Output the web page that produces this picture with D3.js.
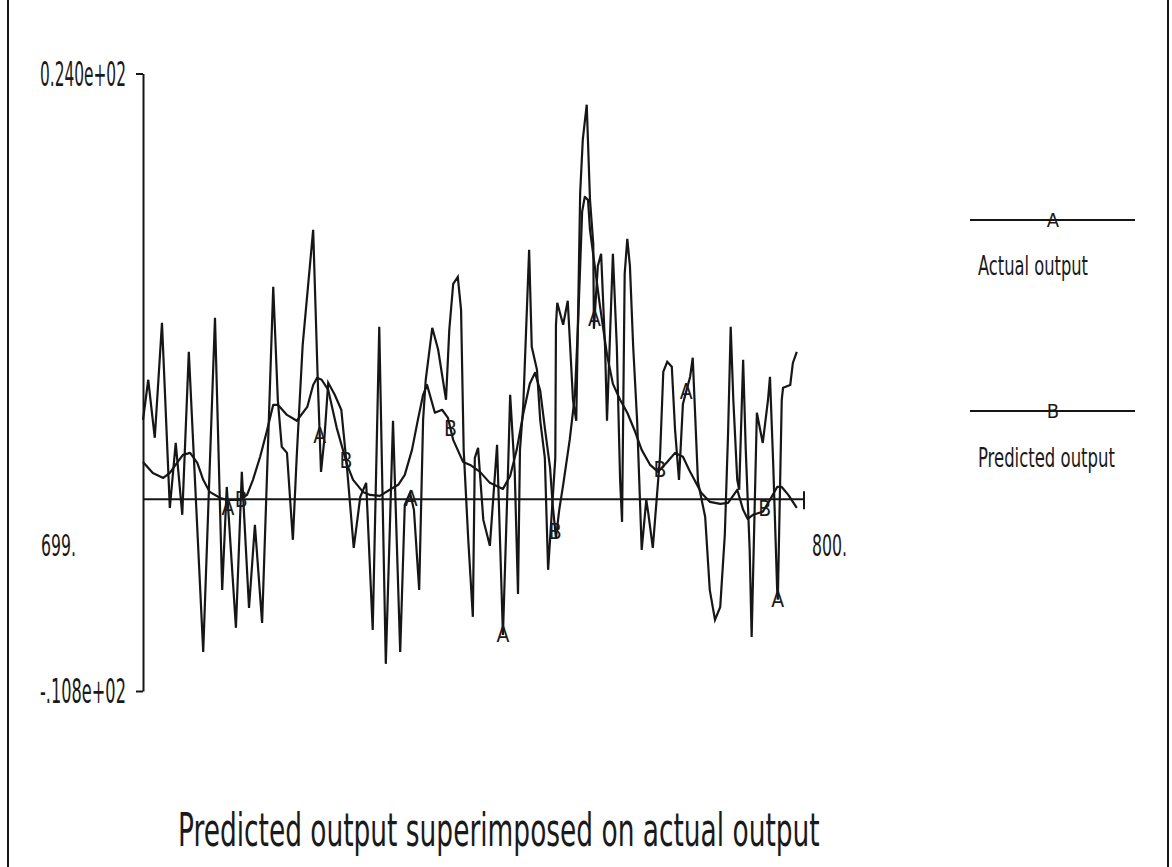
<!DOCTYPE html>
<html>
<head>
<meta charset="utf-8">
<script src="https://cdn.jsdelivr.net/npm/d3@7"></script>
<style>
  html, body { margin: 0; padding: 0; background: #fff; }
  svg { display: block; }
  text { font-family: "Liberation Sans Narrow", "DejaVu Sans Condensed", "DejaVu Sans", sans-serif; fill: #1a1a1a; }
</style>
</head>
<body>
<svg id="chart" width="1172" height="867"></svg>
<script>
// Actual output (series A), sampled along the record
const actualX = [699.0, 699.8, 700.8, 701.9, 703.1, 704.0, 705.0, 706.0, 708.2, 710.0,
  711.1, 711.8, 713.2, 714.1, 715.2, 716.1, 717.2, 718.9, 719.6, 720.2,
  721.0, 721.9, 722.5, 723.4, 725.0, 725.7, 726.2, 726.7, 727.3, 728.3,
  729.3, 730.2, 731.2, 732.2, 733.1, 734.1, 735.1, 736.1, 737.2, 738.3,
  739.0, 739.8, 740.4, 741.2, 741.8, 742.2, 743.2, 744.1, 745.3, 745.8,
  746.4, 747.1, 747.6, 748.0, 748.7, 749.4, 749.7, 750.2, 751.0, 752.0,
  753.1, 754.0, 754.8, 755.1, 755.8, 756.3, 756.6, 757.1, 758.0, 758.4,
  759.2, 759.7, 760.4, 760.9, 762.0, 762.1, 762.3, 763.2, 763.9, 764.7,
  765.2, 765.8, 766.2, 766.8, 767.3, 767.8, 767.9, 768.5, 769.0, 769.6,
  769.9, 770.8, 771.4, 771.9, 772.2, 772.6, 773.0, 773.4, 773.9, 774.5,
  774.9, 775.2, 775.9, 776.2, 776.9, 778.0, 778.5, 779.1, 779.8, 780.3,
  780.9, 781.5, 782.6, 783.0, 783.8, 784.9, 785.6, 786.4, 787.2, 787.9,
  788.4, 788.8, 789.2, 789.8, 790.1, 790.7, 791.1, 791.7, 792.0, 792.8,
  793.3, 793.7, 794.5, 794.8, 795.3, 795.9, 796.0, 796.6, 796.8, 797.9,
  798.3, 798.9];
const actualY = [4.48, 6.74, 3.47, 9.95, -0.48, 3.18, -0.87, 8.31, -8.60, 10.23,
  -5.10, 0.70, -7.24, 1.55, -6.12, -1.44, -6.96, 11.98, 5.61, 2.96,
  2.62, -2.28, 2.51, 8.71, 15.19, 6.74, 1.55, 3.35, 6.57, 5.89,
  5.05, 1.66, -2.73, 0.14, 0.93, -7.36, 9.72, -9.27, 4.43, -8.60,
  -0.31, 0.37, -0.59, -5.10, 4.48, 6.74, 9.67, 8.43, 5.61, 9.55,
  12.15, 12.54, 10.68, 2.79, -2.28, -6.62, 2.34, 2.90, -1.16, -2.62,
  3.07, -7.64, 1.94, 5.89, 1.55, -5.33, 2.79, 5.27, 14.06, 8.60,
  7.30, 4.43, 2.34, -3.97, 2.34, 9.84, 11.08, 9.84, 11.19, 5.61,
  4.43, 17.28, 20.27, 22.24, 16.88, 14.40, 9.61, 13.16, 13.84, 8.60,
  4.43, 13.84, 8.60, 1.10, -1.27, 12.71, 14.68, 13.16, 8.60, 4.43,
  0.31, -2.85, -0.03, -0.76, -2.73, 2.40, 7.19, 7.75, 7.47, 3.92,
  1.10, 5.38, 6.91, 7.98, 0.99, -0.99, -5.10, -6.79, -6.06, -2.00,
  3.75, 9.72, 5.61, 1.10, 0.54, 7.86, 2.79, -2.85, -7.75, 4.88,
  3.92, 3.18, 5.61, 6.91, 1.94, -5.10, -5.66, 5.61, 6.29, 6.45,
  7.69, 8.31];

// Predicted output (series B)
const predictedX = [699.0, 700.5, 702.1, 703.1, 704.2, 705.1, 706.2, 707.3, 708.2, 709.2,
  710.8, 711.8, 713.8, 714.9, 715.8, 716.9, 717.9, 718.9, 719.6, 721.0,
  722.5, 724.1, 725.0, 725.6, 726.3, 727.3, 728.6, 730.2, 731.1, 732.6,
  733.7, 735.2, 736.7, 738.0, 739.0, 740.1, 741.0, 741.8, 742.4, 743.6,
  744.7, 745.6, 746.4, 747.9, 749.0, 750.5, 752.0, 754.0, 755.1, 756.1,
  757.1, 758.1, 758.9, 759.7, 760.4, 761.2, 761.6, 762.1, 762.6, 763.2,
  764.2, 765.0, 765.5, 766.1, 766.5, 767.0, 767.3, 768.1, 768.8, 769.9,
  770.8, 771.9, 773.0, 774.2, 775.2, 776.5, 777.7, 779.1, 780.3, 781.5,
  782.6, 784.3, 785.6, 787.2, 788.4, 789.8, 790.7, 791.4, 792.2, 793.7,
  794.8, 795.9, 796.6, 797.6, 798.9];
const predictedY = [2.11, 1.49, 1.21, 1.49, 2.06, 2.51, 2.62, 2.06, 1.10, 0.42,
  0.08, -0.03, -0.03, 0.25, 1.10, 2.40, 3.81, 5.33, 5.33, 4.76,
  4.43, 5.21, 6.45, 6.85, 6.74, 6.17, 4.03, 1.94, 1.10, 0.42,
  0.25, 0.20, 0.54, 0.82, 1.38, 2.79, 4.48, 5.89, 6.45, 4.88,
  5.05, 4.59, 3.35, 2.11, 1.94, 1.55, 0.93, 0.59, 1.32, 2.79,
  4.82, 6.51, 7.13, 6.12, 4.03, 1.78, -0.31, -2.17, -0.59, 0.82,
  3.35, 5.89, 10.12, 16.21, 17.05, 16.88, 15.19, 12.94, 10.96, 8.15,
  6.51, 5.61, 4.88, 3.81, 2.79, 1.94, 1.55, 2.11, 2.62, 2.40,
  1.55, 0.37, -0.14, -0.25, -0.20, 0.54, -0.59, -1.10, -0.87, -0.70,
  -0.03, 0.70, 0.70, 0.25, -0.48];

// Symbol positions along each curve
const markerAX = [712, 726, 740, 754, 768, 782, 796];
const markerBX = [714, 730, 746, 762, 778, 794];

const yTickValues = [-10.8, 24.0];
const yTickLabels = ["-.108e+02", "0.240e+02"];
const xTickValues = [699, 800];
const xTickLabels = ["699.", "800."];

const seriesNames = ["Actual output", "Predicted output"];
const seriesSymbols = ["A", "B"];
const chartTitle = "Predicted output superimposed on actual output";

const svg = d3.select("#chart");
const ink = "#161616";

const x = d3.scaleLinear().domain([699, 800]).range([143, 804]);
const y = d3.scaleLinear().domain([-10.8, 24.0]).range([691, 73.5]);

// Squeeze a text horizontally to a given width, anchored at its start (x0, y0)
function fitWidth(sel, x0, y0, width) {
  sel.each(function () {
    const w = this.getComputedTextLength();
    const k = w > 0 ? width / w : 1;
    d3.select(this).attr("x", 0).attr("y", 0)
      .attr("transform", `translate(${x0},${y0}) scale(${k},1)`);
  });
}

// page frame
svg.append("line").attr("x1", 8).attr("x2", 8).attr("y1", 0).attr("y2", 867)
  .attr("stroke", ink).attr("stroke-width", 2);
svg.append("line").attr("x1", 1168).attr("x2", 1168).attr("y1", 0).attr("y2", 867)
  .attr("stroke", ink).attr("stroke-width", 2);

// vertical axis
const yAxis = d3.axisLeft(y)
  .tickValues(yTickValues)
  .tickSizeInner(7).tickSizeOuter(0).tickPadding(14)
  .tickFormat((d, i) => yTickLabels[i]);
const gy = svg.append("g").attr("transform", `translate(${x(699)},0)`).call(yAxis);
gy.select(".domain").attr("stroke", ink).attr("stroke-width", 2);
gy.selectAll(".tick line").attr("stroke", ink).attr("stroke-width", 2);
gy.selectAll(".tick text")
  .attr("font-size", 33).attr("font-family", null).attr("fill", "#1a1a1a")
  .attr("text-anchor", "start").attr("dy", "0.36em")
  .each(function () { fitWidth(d3.select(this), -103, 0, 86); });

// horizontal axis along zero
const gx = svg.append("g").attr("transform", `translate(0,${y(0)})`);
gx.append("line").attr("x1", x(699)).attr("x2", x(800))
  .attr("stroke", ink).attr("stroke-width", 2);
gx.append("line").attr("x1", x(800)).attr("x2", x(800)).attr("y1", -8).attr("y2", 10)
  .attr("stroke", ink).attr("stroke-width", 2);
gx.selectAll("text.xl").data(xTickValues).join("text")
  .attr("class", "xl")
  .attr("font-size", 30)
  .text((d, i) => xTickLabels[i])
  .each(function (d, i) {
    fitWidth(d3.select(this), i === 0 ? x(d) - 102 : x(d) + 8, 57, 35);
  });

// curves
const line = d3.line().x(d => x(d[0])).y(d => y(d[1]));
const actual = actualX.map((v, i) => [v, actualY[i]]);
const predicted = predictedX.map((v, i) => [v, predictedY[i]]);

svg.append("path").datum(predicted).attr("d", line)
  .attr("fill", "none").attr("stroke", ink).attr("stroke-width", 2.2)
  .attr("stroke-linejoin", "round");
svg.append("path").datum(actual).attr("d", line)
  .attr("fill", "none").attr("stroke", ink).attr("stroke-width", 2.2)
  .attr("stroke-linejoin", "miter");

// letter symbols sitting on the curves
function valueAt(xs, ys, v) {
  const i = Math.max(1, d3.bisectLeft(xs, v));
  const x0 = xs[i - 1], x1 = xs[Math.min(i, xs.length - 1)];
  const t = x1 === x0 ? 0 : (v - x0) / (x1 - x0);
  return ys[i - 1] + t * (ys[Math.min(i, ys.length - 1)] - ys[i - 1]);
}
const markers = [
  ...markerAX.map(v => ({ x: v, y: valueAt(actualX, actualY, v), s: seriesSymbols[0] })),
  ...markerBX.map(v => ({ x: v, y: valueAt(predictedX, predictedY, v), s: seriesSymbols[1] }))
];
svg.selectAll("text.sym").data(markers).join("text")
  .attr("class", "sym")
  .attr("x", d => x(d.x)).attr("y", d => y(d.y))
  .attr("text-anchor", "middle").attr("dy", "0.36em")
  .attr("font-size", 21)
  .text(d => d.s);

// legend
const legend = svg.append("g");
const legendRows = [
  { y: 220, label: seriesNames[0], sym: seriesSymbols[0], ly: 275, w: 110 },
  { y: 411, label: seriesNames[1], sym: seriesSymbols[1], ly: 467, w: 137 }
];
legendRows.forEach(r => {
  legend.append("line").attr("x1", 970).attr("x2", 1135).attr("y1", r.y).attr("y2", r.y)
    .attr("stroke", ink).attr("stroke-width", 2);
  legend.append("text").attr("x", 1053).attr("y", r.y).attr("dy", "0.36em")
    .attr("text-anchor", "middle").attr("font-size", 20).text(r.sym);
  legend.append("text").attr("font-size", 26).text(r.label)
    .call(s => fitWidth(s, 978, r.ly, r.w));
});

// title
svg.append("text").attr("font-size", 46).text(chartTitle)
  .call(s => fitWidth(s, 178, 846, 642));
</script>
</body>
</html>
